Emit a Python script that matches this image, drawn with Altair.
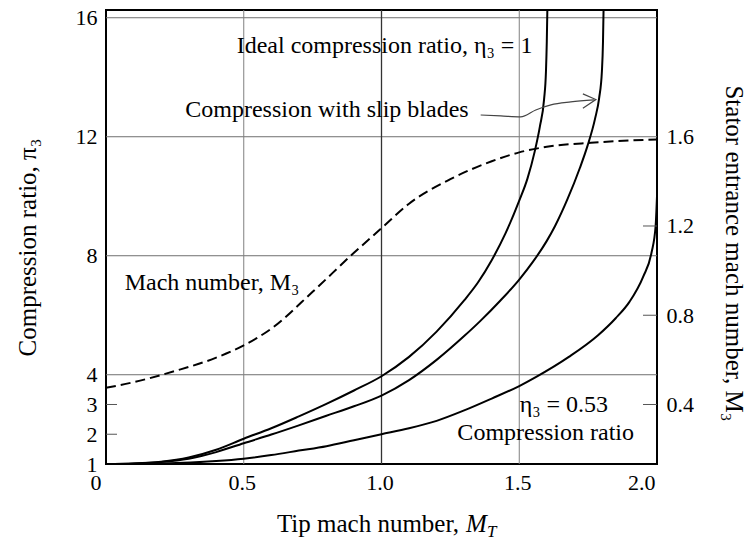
import altair as alt
import pandas as pd

FONT = "Liberation Serif"

# ---- data ----
# Ideal compression ratio (eta3 = 1)
ideal_x = [0.0, 0.1, 0.2, 0.3, 0.4, 0.5, 0.6, 0.7, 0.8, 0.9, 1.0, 1.1, 1.2, 1.3, 1.35,
           1.4, 1.45, 1.5, 1.53, 1.556, 1.575, 1.59, 1.597, 1.6, 1.602]
ideal_pi = [1.0, 1.02, 1.08, 1.22, 1.48, 1.85, 2.2, 2.6, 3.02, 3.47, 3.95, 4.6, 5.45, 6.5, 7.1,
            7.85, 8.75, 9.85, 10.6, 11.5, 12.35, 13.25, 14.2, 15.2, 16.26]

# Compression with slip blades
slip_x = [0.0, 0.1, 0.2, 0.3, 0.4, 0.5, 0.6, 0.7, 0.8, 0.9, 1.0, 1.1, 1.2, 1.3, 1.36,
          1.43, 1.5, 1.55, 1.6, 1.63, 1.675, 1.72, 1.748, 1.775, 1.79, 1.8, 1.804, 1.806]
slip_pi = [1.0, 1.02, 1.07, 1.18, 1.4, 1.7, 1.99, 2.3, 2.62, 2.94, 3.3, 3.82, 4.5, 5.3, 5.82,
           6.48, 7.2, 7.8, 8.5, 9.0, 9.9, 10.95, 11.7, 12.6, 13.3, 14.2, 15.2, 16.26]

# Compression ratio, eta3 = 0.53
eta_x = [0.0, 0.2, 0.4, 0.5, 0.6, 0.7, 0.8, 0.9, 1.0, 1.1, 1.2, 1.3, 1.4, 1.5, 1.56,
         1.68, 1.785, 1.85, 1.9, 1.95, 1.98, 1.995, 2.0]
eta_pi = [1.0, 1.02, 1.1, 1.18, 1.3, 1.45, 1.6, 1.8, 2.0, 2.2, 2.45, 2.8, 3.2, 3.62, 3.92,
          4.6, 5.32, 5.9, 6.45, 7.3, 8.1, 9.0, 10.0]

# Stator entrance Mach number M3 (right axis)
mach_x = [0.0, 0.1, 0.25, 0.4, 0.5, 0.6, 0.75, 0.9, 1.0, 1.1, 1.25, 1.4, 1.5, 1.6, 1.76, 1.9, 2.0]
mach_m = [0.475, 0.5, 0.55, 0.61, 0.665, 0.74, 0.905, 1.08, 1.19, 1.3, 1.41, 1.49, 1.53,
          1.555, 1.573, 1.583, 1.588]

# axes / grid
x_ticks = [0, 0.5, 1.0, 1.5, 2.0]
pi_ticks = [1, 2, 3, 4, 8, 12, 16]
pi_grid = [4, 8, 12, 16]
pi_minor = [2, 3]
m_ticks = [0.4, 0.8, 1.2, 1.6]
m_minor = [0.4, 0.8, 1.2]
x_grid = [0.5, 1.5]
x_grid_dark = [1.0]
pi_domain = [1, 16.26]
m_domain = [1 / 7.5, 16.26 / 7.5]

# annotations (data coordinates)
ann_text = ["Ideal compression ratio, η₃ = 1", "Compression with slip blades",
            "Mach number, M₃", "η₃ = 0.53", "Compression ratio"]
ann_x = [1.011, 0.802, 0.385, 1.662, 1.596]
ann_pi = [15.05, 12.9, 7.08, 2.98, 2.04]

arrow_x = [1.36, 1.433, 1.505, 1.56, 1.615, 1.687, 1.771]
arrow_pi = [12.73, 12.70, 12.67, 12.9, 13.07, 13.17, 13.24]
head_x = [1.731, 1.778, 1.731]
head_pi = [13.44, 13.25, 12.96]

W, H = 551, 454

xs = alt.Scale(domain=[0, 2], nice=False, zero=False)
ys = alt.Scale(domain=pi_domain, nice=False, zero=False)
ms = alt.Scale(domain=m_domain, nice=False, zero=False)

x_axis = alt.Axis(values=x_ticks, ticks=False, grid=False, domain=False, labelFontSize=22,
                  labelPadding=8, title=None,
                  labelExpr="datum.value == 0 ? '0' : format(datum.value, '.1f')",
                  labelOffset={"condition": {"test": "datum.value === 0", "value": -16}, "value": -2})
y_axis = alt.Axis(values=pi_ticks, ticks=False, grid=False, domain=False, labelFontSize=22,
                  labelPadding=9, title="Compression ratio, π₃", titleFontSize=25,
                  titleAngle=270, titleX=-79, titleY=237, titleBaseline="middle", titleAlign="center")
m_axis = alt.Axis(values=m_ticks, ticks=False, grid=False, domain=False, labelFontSize=22,
                  labelPadding=9, format=".1f", orient="right",
                  title="Stator entrance mach number, M₃", titleFontSize=25,
                  titleAngle=90, titleX=76, titleY=243, titleBaseline="middle", titleAlign="center")

curves = pd.concat([
    pd.DataFrame({"x": ideal_x, "pi": ideal_pi, "curve": "ideal"}),
    pd.DataFrame({"x": slip_x, "pi": slip_pi, "curve": "slip"}),
    pd.DataFrame({"x": eta_x, "pi": eta_pi, "curve": "eta053"}),
])

hgrid = alt.Chart(pd.DataFrame({"pi": pi_grid})).mark_rule(color="#707070", strokeWidth=1).encode(
    y=alt.Y("pi:Q", scale=ys, axis=y_axis))
vgrid = alt.Chart(pd.DataFrame({"x": x_grid})).mark_rule(color="#808080", strokeWidth=1).encode(
    x=alt.X("x:Q", scale=xs, axis=x_axis))
vgrid2 = alt.Chart(pd.DataFrame({"x": x_grid_dark})).mark_rule(color="#333", strokeWidth=1.3).encode(
    x=alt.X("x:Q", scale=xs))
lticks = alt.Chart(pd.DataFrame({"pi": pi_minor})).mark_rule(color="#555", strokeWidth=1).encode(
    y=alt.Y("pi:Q", scale=ys), x=alt.value(0), x2=alt.value(11))

lines = alt.Chart(curves).mark_line(color="black", strokeWidth=2, interpolate="monotone", clip=True).encode(
    x=alt.X("x:Q", scale=xs), y=alt.Y("pi:Q", scale=ys), detail="curve:N", order="x:Q")

ann = alt.Chart(pd.DataFrame({"t": ann_text, "x": ann_x, "pi": ann_pi})).mark_text(
    font=FONT, fontSize=24, color="black", align="center", baseline="middle").encode(
    x=alt.X("x:Q", scale=xs), y=alt.Y("pi:Q", scale=ys), text="t:N")

arrow = alt.Chart(pd.DataFrame({"x": arrow_x, "pi": arrow_pi, "o": list(range(len(arrow_x)))})).mark_line(
    color="#444", strokeWidth=1.2, interpolate="monotone").encode(
    x=alt.X("x:Q", scale=xs), y=alt.Y("pi:Q", scale=ys), order="o:Q")
head = alt.Chart(pd.DataFrame({"x": head_x, "pi": head_pi, "o": [0, 1, 2]})).mark_line(
    color="#444", strokeWidth=1.2).encode(
    x=alt.X("x:Q", scale=xs), y=alt.Y("pi:Q", scale=ys), order="o:Q")

# bottom title built from pieces (italic M with subscript T)
t1 = alt.Chart(pd.DataFrame({"t": ["Tip mach number,"]})).mark_text(
    font=FONT, fontSize=25, color="black", align="right", baseline="middle").encode(
    text="t:N", x=alt.value(353), y=alt.value(514))
t2 = alt.Chart(pd.DataFrame({"t": ["M"]})).mark_text(
    font=FONT, fontSize=25, fontStyle="italic", color="black", align="left", baseline="middle").encode(
    text="t:N", x=alt.value(360), y=alt.value(514))
t3 = alt.Chart(pd.DataFrame({"t": ["T"]})).mark_text(
    font=FONT, fontSize=17, fontStyle="italic", color="black", align="left", baseline="middle").encode(
    text="t:N", x=alt.value(381), y=alt.value(522))

left = alt.layer(hgrid, vgrid, vgrid2, lticks, lines, ann, arrow, head, t1, t2, t3)

dashed = alt.Chart(pd.DataFrame({"x": mach_x, "m": mach_m})).mark_line(
    color="black", strokeWidth=2, strokeDash=[10, 5], interpolate="monotone").encode(
    x=alt.X("x:Q", scale=xs), y=alt.Y("m:Q", scale=ms, axis=m_axis))
rticks = alt.Chart(pd.DataFrame({"m": m_minor})).mark_rule(color="#555", strokeWidth=1).encode(
    y=alt.Y("m:Q", scale=ms), x=alt.value(W - 14), x2=alt.value(W))
right = alt.layer(dashed, rticks)

chart = alt.layer(left, right).resolve_scale(y="independent").properties(
    width=W, height=H, autosize=alt.AutoSizeParams(type="none"),
    padding={"left": 106, "top": 10, "right": 90, "bottom": 80},
).configure_view(stroke="black", strokeWidth=2).configure_axis(
    labelFont=FONT, titleFont=FONT, labelColor="black", titleColor="black", titleFontWeight="normal")

chart.save("out.html", embed_options={"renderer": "svg", "actions": False})
